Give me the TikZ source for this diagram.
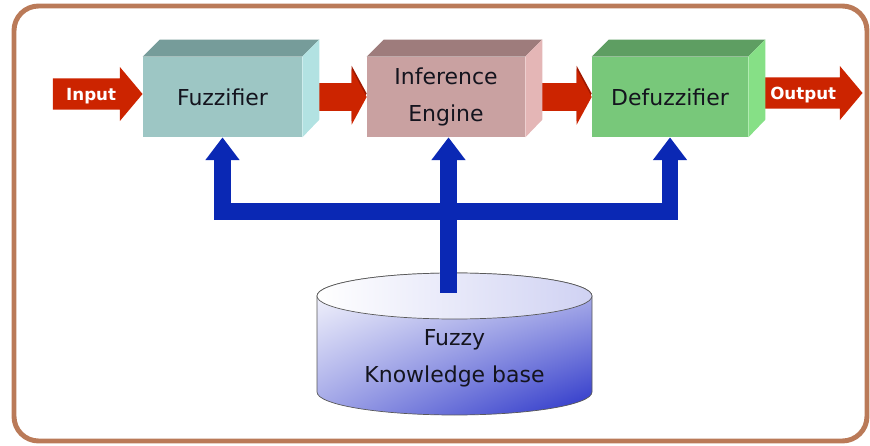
\documentclass[tikz,border=0pt]{standalone}
\usepackage{fontspec}
\setmainfont{DejaVu Sans}
\usetikzlibrary{arrows.meta,shapes.arrows,shadings}

\definecolor{framebrown}{RGB}{186,122,88}
\definecolor{fuzzfront}{RGB}{157,198,196}
\definecolor{fuzztop}{RGB}{118,156,154}
\definecolor{fuzzside}{RGB}{178,226,226}
\definecolor{inffront}{RGB}{201,161,161}
\definecolor{inftop}{RGB}{158,124,124}
\definecolor{infside}{RGB}{228,182,182}
\definecolor{defuzzfront}{RGB}{120,200,122}
\definecolor{defuzztop}{RGB}{94,158,98}
\definecolor{defuzzside}{RGB}{134,224,134}
\definecolor{flowred}{RGB}{204,36,0}
\definecolor{flowdark}{RGB}{160,24,0}
\definecolor{busblue}{RGB}{10,40,180}
\definecolor{kbblue}{RGB}{40,50,200}
\definecolor{ink}{RGB}{20,20,30}

\tikzset{
  block/.style={minimum height=1.6cm, inner sep=0pt, align=center,
    font=\fontsize{12.5}{21}\selectfont, text=ink},
  flow/.style={line width=16pt, draw=flowred,
    -{Triangle[width=31pt,length=8.5pt]},
    preaction={draw=flowdark, transform canvas={yshift=2pt}}},
  ioarrow/.style={single arrow, fill=flowred, text=white, inner xsep=3pt,
    font=\bfseries\fontsize{9.5}{11}\selectfont, text height=7.5pt, text depth=0pt,
    inner ysep=5pt, single arrow head extend=6.5pt, single arrow tip angle=100},
  bus/.style={line width=9.6pt, draw=busblue, line join=miter},
  bustip/.tip={Triangle[width=18.7pt,length=13pt]}
}

\begin{document}
\begin{tikzpicture}[x=0.02cm, y=-0.02cm]
  \useasboundingbox (0,0) rectangle (870,446);
  \draw[framebrown, line width=2.8pt, rounded corners=14pt] (14,6) rectangle (867,441);

  % knowledge base
  \shade[upper left=white, upper right=kbblue!30!white, lower left=kbblue!45!white,
    lower right=kbblue, draw=gray!70!black]
    (317,296) -- (317,392) arc[start angle=180, end angle=0, x radius=137.5, y radius=23]
    -- (592,296) arc[start angle=0, end angle=-180, x radius=137.5, y radius=23] -- cycle;
  \shade[left color=white, right color=kbblue!22!white, draw=gray!70!black]
    (454.5,296) ellipse[x radius=137.5, y radius=23];
  \node[block, minimum height=0pt] (kb) at (454.5,358) {Fuzzy\\Knowledge base};

  % blocks
  \node[block, fill=fuzzfront, minimum width=3.18cm] (fuzz) at (222.5,97) {Fuzzifier};
  \node[block, fill=inffront, minimum width=3.16cm] (inf) at (446,97) {Inference\\Engine};
  \node[block, fill=defuzzfront, minimum width=3.12cm] (defuzz) at (670,97) {Defuzzifier};

  \node[ioarrow, anchor=tip, minimum height=51pt] (input) at (143,94) {Input};
  \node[ioarrow, anchor=tip, minimum height=60pt] (output) at (863,93) {Output};

  \draw[flow] ([xshift=5pt]fuzz.east) -- (inf.west);
  \draw[flow] ([xshift=5pt]inf.east) -- (defuzz.west);

  \foreach \n/\t/\s in {fuzz/fuzztop/fuzzside, inf/inftop/infside, defuzz/defuzztop/defuzzside}{
    \fill[\t] (\n.north west) -- ++(17,-17) -- ([shift={(17,-17)}]\n.north east)
      -- (\n.north east) -- cycle;
    \fill[\s] (\n.north east) -- ++(17,-17) -- ++(0,80) -- (\n.south east) -- cycle;
  }

  % rule base links
  \coordinate (kbtop) at (448.5,293);
  \coordinate (hub) at (448.5,211.5);
  \draw[bus, -bustip] (kbtop) -- (kbtop |- inf.south);
  \draw[bus, bustip-bustip] (fuzz.south) |- (hub) -| (defuzz.south);
\end{tikzpicture}
\end{document}
